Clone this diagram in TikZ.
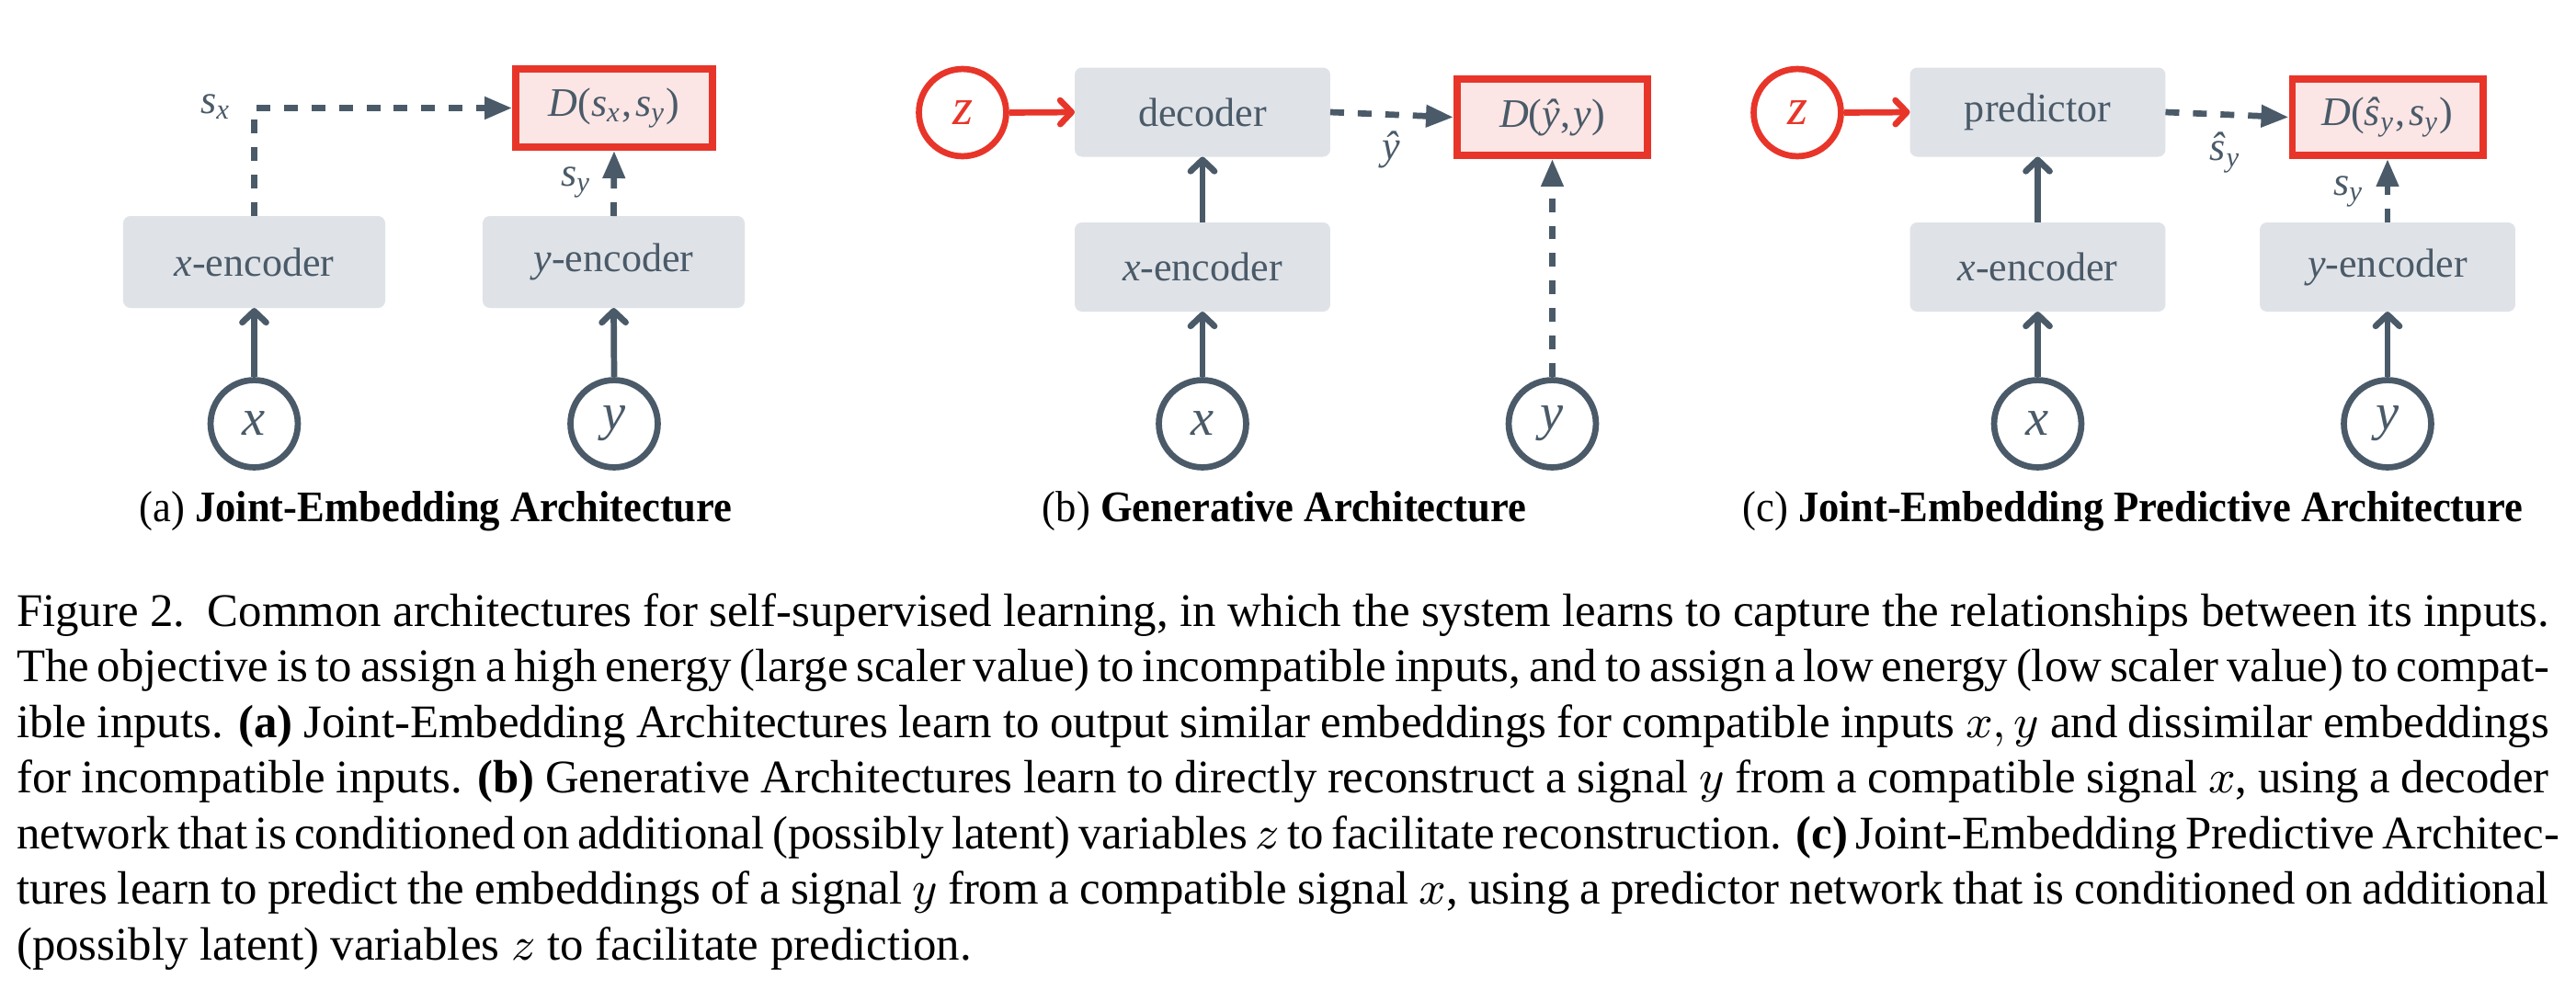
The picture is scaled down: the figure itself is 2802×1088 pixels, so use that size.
\RequirePackage{fix-cm}
\documentclass[tikz,border=0pt]{standalone}
\usepackage{fontspec}
\setmainfont{Liberation Serif}
\usetikzlibrary{arrows.meta}
\definecolor{slate}{HTML}{4A5A68}
\definecolor{boxgray}{HTML}{DFE2E7}
\definecolor{dred}{HTML}{E8352A}
\definecolor{dpink}{HTML}{FBE6E5}
\newlength{\capw}\setlength{\capw}{487.6pt}
\newcommand{\diagfont}{\fontsize{7.8}{9}\selectfont}
\newcommand{\circfont}{\fontsize{10}{12}\selectfont}
\newcommand{\capfont}{\fontsize{9}{10.7}\selectfont}
\newcommand{\subcapfont}{\fontsize{8.4}{10}\selectfont}
\newcommand{\ssub}[2]{\textit{#1}\textsubscript{\textit{#2}}}
\begin{document}
\begin{tikzpicture}[x=0.177pt, y=-0.177pt,
  encbox/.style={fill=boxgray, rounded corners=1.4pt, text=slate, font=\diagfont, inner sep=0pt, outer sep=0pt},
  enca/.style={encbox, minimum width=50.45pt, minimum height=17.7pt},
  encb/.style={encbox, minimum width=49.2pt, minimum height=17.17pt},
  dbox/.style={draw=dred, fill=dpink, line width=1.36pt, text=slate, font=\diagfont, inner sep=0pt},
  dboxa/.style={dbox, minimum width=37.9pt, minimum height=15.1pt},
  dboxb/.style={dbox, minimum width=36.7pt, minimum height=14.74pt},
  var/.style={circle, draw=slate, line width=1.19pt, minimum size=16.8pt, inner sep=0pt, text=slate, font=\circfont},
  latent/.style={var, draw=dred, text=dred},
  lab/.style={text=slate, font=\diagfont, inner sep=0pt},
  solidarr/.style={draw=slate, line width=1.19pt, -{Straight Barb[length=2.2pt, width=4.6pt, round]}},
  redarr/.style={solidarr, draw=dred},
  dasharr/.style={draw=slate, line width=1.19pt, dash pattern=on 2.65pt off 2.65pt, -{Triangle[length=5.3pt, width=4.1pt]}},
  subcap/.style={font=\subcapfont, inner sep=0pt, anchor=base},
  capline/.style={font=\capfont, inner sep=0pt, anchor=base west}
]
\fill[white] (0,0) rectangle (2802,1088);
\useasboundingbox (0,0) rectangle (2802,1088);

% ---------- (a) ----------
\node[enca] (xenca) at (276.5,285) {\textit{x}-encoder};
\node[enca] (yenca) at (667.5,285) {\textit{y}-encoder};
\node[dboxa] (Da) at (668,117.5) {\textit{D}(\ssub{s}{x},\kern0.6pt\ssub{s}{y})};
\node[var] (xa) at (276.5,461) {\textit{x}};
\node[var] (ya) at (668,461) {\textit{y}};
\coordinate (cornera) at (xenca.north |- Da.west);
\draw[solidarr] (xa.north) -- (xenca.south);
\draw[solidarr] (ya.north) -- (yenca.south);
\draw[dasharr] (xenca.north) -- (cornera) -- (Da.west);
\draw[dasharr] (yenca.north) -- (Da.south);
\node[lab, anchor=base east] (lsx) at (253,123) {\ssub{s}{x}};
\node[lab, anchor=base east] (lsya) at (645,202) {\ssub{s}{y}};
\node[subcap] (capa) at (474,567) {\scalebox{0.94}[1]{(a) \textbf{Joint-Embedding Architecture}}};

% ---------- (b) ----------
\node[latent] (zb) at (1047,122.5) {\textit{z}};
\node[encb] (dec) at (1308,122) {decoder};
\node[dboxb] (Db) at (1688.5,127.5) {\textit{D}(\textit{ŷ},\kern0.6pt\textit{y})};
\node[encb] (xencb) at (1308,290.5) {\textit{x}-encoder};
\node[var] (xb) at (1308,461) {\textit{x}};
\node[var] (yb) at (1688.5,461) {\textit{y}};
\draw[redarr] (zb.east) -- (dec.west);
\draw[solidarr] (xencb.north) -- (dec.south);
\draw[solidarr] (xb.north) -- (xencb.south);
\draw[dasharr] (dec.east) -- (Db.west);
\draw[dasharr] (yb.north) -- (Db.south);
\node[lab] (lyhat) at (1513,163) {\textit{ŷ}};
\node[subcap] (capb) at (1397,567) {\scalebox{0.94}[1]{(b) \textbf{Generative Architecture}}};

% ---------- (c) ----------
\node[latent] (zc) at (1955,122.5) {\textit{z}};
\node[encb] (pred) at (2216.5,122) {predictor};
\node[dboxb] (Dc) at (2597,127.5) {\textit{D}(\ssub{ŝ}{y},\kern0.6pt\ssub{s}{y})};
\node[encb] (xencc) at (2216.5,290.5) {\textit{x}-encoder};
\node[encb] (yencc) at (2597,290.5) {\textit{y}-encoder};
\node[var] (xc) at (2216.5,461) {\textit{x}};
\node[var] (yc) at (2597,461) {\textit{y}};
\draw[redarr] (zc.east) -- (pred.west);
\draw[solidarr] (xencc.north) -- (pred.south);
\draw[solidarr] (xc.north) -- (xencc.south);
\draw[solidarr] (yc.north) -- (yencc.south);
\draw[dasharr] (pred.east) -- (Dc.west);
\draw[dasharr] (yencc.north) -- (Dc.south);
\node[lab] (lshat) at (2421,166) {\ssub{ŝ}{y}};
\node[lab, anchor=base east] (lsyc) at (2573,212) {\ssub{s}{y}};
\node[subcap] (capc) at (2320,567) {\scalebox{0.94}[1]{(c) \textbf{Joint-Embedding Predictive Architecture}}};

% ---------- caption ----------
\node[capline] (cap1) at (17,681) {\makebox[\capw][s]{Figure 2.\ \ Common architectures for self-supervised learning, in which the system learns to capture the relationships between its inputs.}};
\node[capline] (cap2) at (17,741.5) {\makebox[\capw][s]{The objective is to assign a high energy (large scaler value) to incompatible inputs, and to assign a low energy (low scaler value) to compat-}};
\node[capline] (cap3) at (17,802) {\makebox[\capw][s]{ible inputs. \textbf{(a)} Joint-Embedding Architectures learn to output similar embeddings for compatible inputs $x,y$ and dissimilar embeddings}};
\node[capline] (cap4) at (17,862.5) {\makebox[\capw][s]{for incompatible inputs. \textbf{(b)} Generative Architectures learn to directly reconstruct a signal $y$ from a compatible signal $x$, using a decoder}};
\node[capline] (cap5) at (17,923) {\makebox[\capw][s]{network that is conditioned on additional (possibly latent) variables $z$ to facilitate reconstruction. \textbf{(c)} Joint-Embedding Predictive Architec-}};
\node[capline] (cap6) at (17,983.5) {\makebox[\capw][s]{tures learn to predict the embeddings of a signal $y$ from a compatible signal $x$, using a predictor network that is conditioned on additional}};
\node[capline] (cap7) at (17,1044) {(possibly latent) variables $z$ to facilitate prediction.};
\end{tikzpicture}
\end{document}
